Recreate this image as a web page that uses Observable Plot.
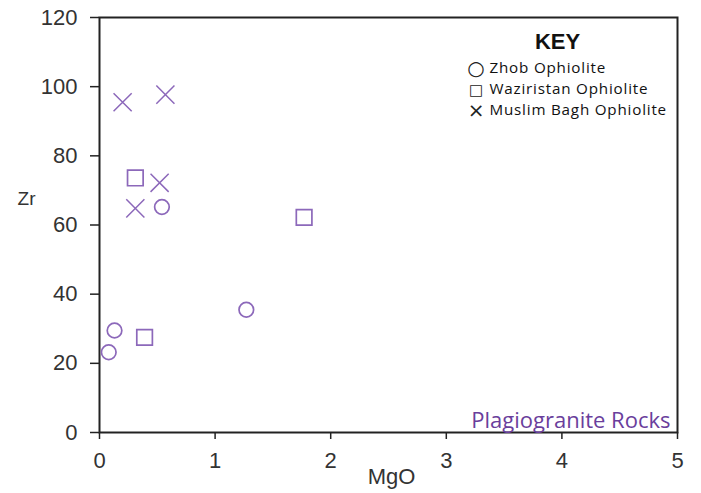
<!DOCTYPE html>
<html>
<head>
<meta charset="utf-8">
<script src="https://cdn.jsdelivr.net/npm/d3@7"></script>
<script src="https://cdn.jsdelivr.net/npm/@observablehq/plot@0.6"></script>
<style>
  html, body { margin: 0; padding: 0; background: #fff; }
  #chart { width: 701px; height: 493px; }
</style>
</head>
<body>
<div id="chart"></div>
<script>
// ---- data ----
const groups = ["Zhob Ophiolite", "Waziristan Ophiolite", "Muslim Bagh Ophiolite"];
const legendGlyphs = ["○", "□", "×"];

const zhobMgO = [0.08, 0.13, 0.54, 1.27];
const zhobZr  = [23.2, 29.5, 65.2, 35.5];

const wazMgO = [0.31, 0.39, 1.77];
const wazZr  = [73.6, 27.5, 62.2];

const mbMgO = [0.20, 0.57, 0.52, 0.31];
const mbZr  = [95.5, 97.7, 72.2, 64.8];

const xTicks = [0, 1, 2, 3, 4, 5];
const yTicks = [0, 20, 40, 60, 80, 100, 120];

const xLabel = "MgO";
const yLabel = "Zr";
const keyTitle = "KEY";
const noteText = "Plagiogranite Rocks";

const toRows = (xs, ys) => xs.map((x, i) => ({ MgO: x, Zr: ys[i] }));
const zhob = toRows(zhobMgO, zhobZr);
const waz = toRows(wazMgO, wazZr);
const mb = toRows(mbMgO, mbZr);

const markColor = "#8c68ba";
const axisColor = "#222";
const tickFont = "'Liberation Sans', Arial, sans-serif";

// legend styling (per-row glyph size / vertical offset)
const glyphSizes = [20, 15, 20];
const legendRowOffsets = [51.3, 72.2, 93.2];

const legendMarks = [
  ...legendGlyphs.map((g, i) => Plot.text([g], {
    frameAnchor: "top-right", text: d => d, textAnchor: "middle", lineAnchor: "middle",
    dx: -201.5, dy: legendRowOffsets[i], fontSize: glyphSizes[i], fill: "#222",
    fontFamily: "'DejaVu Sans', sans-serif"
  })),
  ...groups.map((g, i) => Plot.text([g], {
    frameAnchor: "top-right", text: d => d, textAnchor: "start", lineAnchor: "middle",
    dx: -188, dy: legendRowOffsets[i] - 0.5, fontSize: 15.2, fill: "#111",
    fontFamily: "'Open Sans', sans-serif"
  }))
];

const chart = Plot.plot({
  width: 701,
  height: 493,
  marginLeft: 99,
  marginRight: 24,
  marginTop: 17,
  marginBottom: 61,
  style: { fontFamily: tickFont, color: "#333", background: "#fff" },
  x: { domain: [0, 5] },
  y: { domain: [0, 120] },
  marks: [
    Plot.axisX({ ticks: xTicks, tickSize: 7, tickPadding: 13, fontSize: 22, label: null, stroke: axisColor, strokeWidth: 1.5, tickFormat: d3.format("d") }),
    Plot.axisY({ ticks: yTicks, tickSize: 9, tickPadding: 13, fontSize: 22, label: null, stroke: axisColor, strokeWidth: 1.5, tickFormat: d3.format("d") }),
    Plot.frame({ stroke: axisColor, strokeWidth: 2 }),
    Plot.dot(zhob, { x: "MgO", y: "Zr", symbol: "circle", r: 7.3, stroke: markColor, strokeWidth: 1.7, fill: "none" }),
    Plot.dot(waz, { x: "MgO", y: "Zr", symbol: "square", r: 8.8, stroke: markColor, strokeWidth: 1.7, fill: "none" }),
    Plot.dot(mb, { x: "MgO", y: "Zr", symbol: "times", r: 8.3, stroke: markColor, strokeWidth: 1.5, fill: "none" }),
    // axis titles
    Plot.text([xLabel], { frameAnchor: "bottom", text: d => d, textAnchor: "middle", dx: 3, dy: 36, lineAnchor: "top", fontSize: 22, fill: "#333" }),
    Plot.text([yLabel], { frameAnchor: "left", text: d => d, textAnchor: "middle", dx: -73, dy: -26, lineAnchor: "middle", fontSize: 19, fill: "#333" }),
    // legend
    Plot.text([keyTitle], { frameAnchor: "top-right", text: d => d, textAnchor: "middle", dx: -120, dy: 16, lineAnchor: "top", fontSize: 22, fontWeight: "bold", fill: "#111" }),
    ...legendMarks,
    // note
    Plot.text([noteText], { frameAnchor: "bottom-right", text: d => d, dx: -7, dy: -4.5, lineAnchor: "bottom", textAnchor: "end", fontSize: 22, fill: "#6a3e9c", fontFamily: "'Open Sans', sans-serif" })
  ]
});
// slightly widen legend lettering to match the reference
d3.select(chart).selectAll("text")
  .filter(function () { return groups.includes(this.textContent); })
  .attr("letter-spacing", "0.8px");
document.getElementById("chart").appendChild(chart);
</script>
</body>
</html>
